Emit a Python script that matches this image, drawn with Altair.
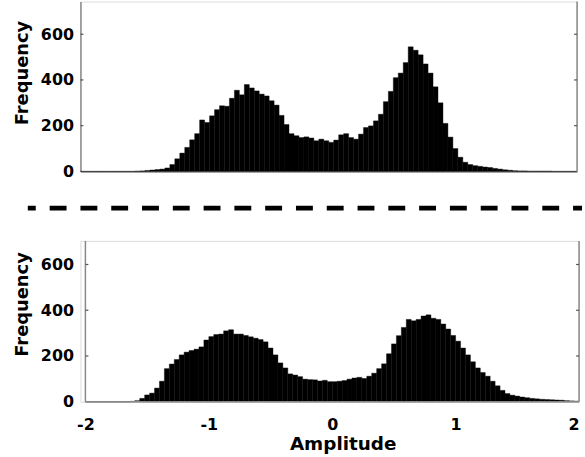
import altair as alt
import pandas as pd

BIN_WIDTH = 0.04
bin_starts = [round(-2 + BIN_WIDTH * i, 2) for i in range(100)]

top_counts = [
    0, 0, 0, 0, 0, 0, 0, 0, 0, 0, 0, 1,
    2, 4, 6, 8, 10, 15, 30, 55, 80, 105, 138, 165,
    225, 214, 243, 270, 287, 285, 320, 355, 335, 380, 365, 352,
    338, 330, 309, 290, 245, 205, 165, 156, 148, 151, 146, 134,
    141, 134, 127, 137, 160, 165, 148, 141, 163, 192, 199, 221,
    250, 305, 350, 410, 430, 476, 545, 530, 510, 470, 430, 370,
    300, 210, 150, 100, 62, 40, 30, 25, 22, 19, 17, 13,
    10, 7, 5, 3, 2, 2, 1, 1, 1, 1, 1, 0,
    0, 0, 0, 0,
]

bottom_counts = [
    0, 0, 0, 0, 0, 0, 0, 0, 0, 2, 5, 15,
    30, 38, 60, 90, 145, 165, 185, 205, 217, 224, 230, 240,
    270, 285, 294, 296, 310, 315, 296, 296, 290, 284, 278, 272,
    262, 235, 205, 170, 148, 122, 117, 110, 99, 97, 96, 91,
    94, 88, 88, 90, 93, 99, 104, 107, 102, 112, 125, 145,
    166, 210, 253, 289, 325, 360, 354, 360, 375, 380, 365, 360,
    340, 318, 290, 265, 235, 205, 175, 148, 128, 112, 90, 70,
    50, 36, 29, 25, 21, 18, 15, 13, 11, 10, 9, 8,
    7, 5, 4, 3,
]

y_ticks = [0, 200, 400, 600]
x_ticks = [-2, -1, 0, 1, 2]
top_x_domain = [-2, 2]
bottom_x_domain = [-2.0402, 2]

FONT = "DejaVu Sans"
AXIS_GRAY = "#888888"
TICK_GRAY = "#555555"


def y_axis(title_y, show_domain):
    return alt.Axis(
        values=y_ticks, ticks=False, labelPadding=7, labelFontSize=16,
        labelFont=FONT, labelFontWeight="bold", labelColor="black",
        title="Frequency", titleFont=FONT, titleFontSize=18,
        titleFontWeight="bold", titleColor="black", titlePadding=9,
        titleY=title_y, domain=show_domain, domainColor=AXIS_GRAY,
        domainWidth=1.5, grid=False,
    )


one = pd.DataFrame({"a": [0]})


def hist_df(counts):
    return pd.DataFrame({
        "start": bin_starts,
        "end": [round(s + BIN_WIDTH, 2) for s in bin_starts],
        "count": counts,
    })


# ---------------- top panel ----------------
TW, TH = 500, 171
txs = alt.Scale(domain=top_x_domain, nice=False, zero=False)
tys = alt.Scale(domain=[0, 743], nice=False)
ty_axis = y_axis(71.5, True)
top_bars = alt.Chart(hist_df(top_counts)).mark_bar(
    color="black", stroke="black", strokeWidth=0.4
).encode(
    x=alt.X("start:Q", scale=txs, axis=alt.Axis(
        labels=False, ticks=False, title=None, domainColor=AXIS_GRAY,
        domainWidth=1.5, grid=False)),
    x2="end:Q",
    y=alt.Y("count:Q", scale=tys, axis=ty_axis),
    y2=alt.datum(0),
)
tick_df = pd.DataFrame({"count": y_ticks[1:]})
top_right = alt.Chart(one).mark_rule(color=AXIS_GRAY, strokeWidth=1.5).encode(
    x=alt.value(TW), y=alt.value(0), y2=alt.value(TH))
top_lt = alt.Chart(tick_df).mark_rule(color=TICK_GRAY, strokeWidth=1.2).encode(
    y=alt.Y("count:Q", scale=tys, axis=ty_axis), x=alt.value(0), x2=alt.value(3))
top_rt = alt.Chart(tick_df).mark_rule(color=TICK_GRAY, strokeWidth=1.2).encode(
    y=alt.Y("count:Q", scale=tys, axis=ty_axis), x=alt.value(TW - 3), x2=alt.value(TW))
dash = alt.Chart(one).mark_rule(
    color="black", strokeWidth=5, strokeDash=[17, 14], strokeDashOffset=9
).encode(x=alt.value(-53), x2=alt.value(505), y=alt.value(208))
top = alt.layer(top_bars, top_right, top_lt, top_rt, dash).properties(width=TW, height=TH)

# ---------------- bottom panel ----------------
BW, BH = 502, 162
bxs = alt.Scale(domain=bottom_x_domain, nice=False, zero=False)
bys = alt.Scale(domain=[0, 703], nice=False)
by_axis = y_axis(63.5, False)
bx_axis = alt.Axis(
    values=x_ticks, ticks=False, labelPadding=15, labelFontSize=16,
    labelFont=FONT, labelFontWeight="bold", labelColor="black",
    labelExpr="datum.value < 0 ? '-' + abs(datum.value) : '' + datum.value",
    title="Amplitude", titleFont=FONT, titleFontSize=18.5,
    titleFontWeight="bold", titleColor="black", titlePadding=2,
    titleX=264, domain=False, grid=False,
)
bot_bars = alt.Chart(hist_df(bottom_counts)).mark_bar(
    color="black", stroke="black", strokeWidth=0.4
).encode(
    x=alt.X("start:Q", scale=bxs, axis=bx_axis),
    x2="end:Q",
    y=alt.Y("count:Q", scale=bys, axis=by_axis),
    y2=alt.datum(0),
)
bot_left = alt.Chart(one).mark_rule(color=AXIS_GRAY, strokeWidth=1.5).encode(
    x=alt.X(datum=-2, scale=bxs, axis=bx_axis), y=alt.value(0), y2=alt.value(BH))
bot_base = alt.Chart(one).mark_rule(color=AXIS_GRAY, strokeWidth=1.5).encode(
    x=alt.X(datum=-2, scale=bxs, axis=bx_axis), x2=alt.datum(2), y=alt.value(BH))
bot_right = alt.Chart(one).mark_rule(color=AXIS_GRAY, strokeWidth=1.5).encode(
    x=alt.value(BW), y=alt.value(0), y2=alt.value(BH))
bot_lt = alt.Chart(tick_df).mark_rule(color=TICK_GRAY, strokeWidth=1.2).encode(
    y=alt.Y("count:Q", scale=bys, axis=by_axis), x=alt.value(5), x2=alt.value(8))
bot_rt = alt.Chart(tick_df).mark_rule(color=TICK_GRAY, strokeWidth=1.2).encode(
    y=alt.Y("count:Q", scale=bys, axis=by_axis), x=alt.value(BW - 3), x2=alt.value(BW))
bot = alt.layer(bot_bars, bot_left, bot_base, bot_right, bot_lt, bot_rt).properties(
    width=BW, height=BH)

chart = alt.vconcat(top, bot, spacing=28).properties(
    padding={"left": 13, "top": -2, "right": 0, "bottom": 0}
).configure_view(stroke=None).configure(background="white")

chart.save("out.html", embed_options={"renderer": "svg", "actions": False})
